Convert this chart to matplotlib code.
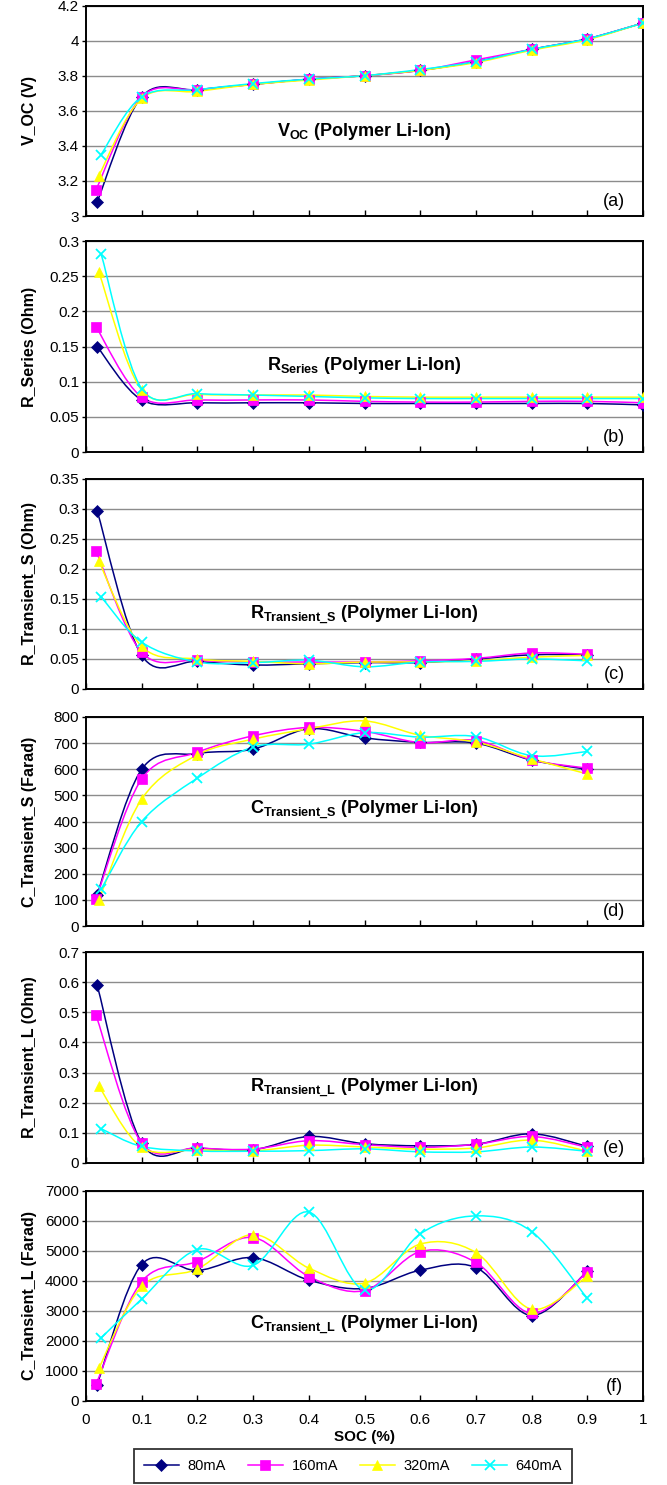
import matplotlib
matplotlib.use("Agg")
import matplotlib.pyplot as plt
from matplotlib.path import Path
from matplotlib.patches import PathPatch
from matplotlib.lines import Line2D
from matplotlib.ticker import FuncFormatter

plt.rcParams["font.family"] = "Liberation Sans"
plt.rcParams["mathtext.fontset"] = "custom"
plt.rcParams["mathtext.bf"] = "Liberation Sans:bold"
plt.rcParams["mathtext.rm"] = "Liberation Sans"

# ---- data ----
currents = ["80mA", "160mA", "320mA", "640mA"]
soc_first = [0.02, 0.018, 0.023, 0.027]
soc_steps = [0.1, 0.2, 0.3, 0.4, 0.5, 0.6, 0.7, 0.8, 0.9, 1.0]

voc = [
    [3.08, 3.68, 3.72, 3.75, 3.78, 3.80, 3.83, 3.88, 3.95, 4.01, 4.10],
    [3.15, 3.68, 3.72, 3.75, 3.78, 3.80, 3.83, 3.89, 3.95, 4.01, 4.10],
    [3.23, 3.67, 3.71, 3.75, 3.775, 3.80, 3.83, 3.875, 3.945, 4.005, 4.10],
    [3.35, 3.68, 3.72, 3.755, 3.78, 3.80, 3.835, 3.88, 3.95, 4.01, 4.10],
]
r_series = [
    [0.150, 0.074, 0.070, 0.070, 0.070, 0.069, 0.069, 0.069, 0.069, 0.069, 0.067],
    [0.178, 0.078, 0.074, 0.074, 0.074, 0.072, 0.071, 0.071, 0.072, 0.072, 0.070],
    [0.256, 0.088, 0.082, 0.081, 0.081, 0.079, 0.078, 0.078, 0.078, 0.078, 0.078],
    [0.282, 0.090, 0.083, 0.081, 0.079, 0.077, 0.076, 0.076, 0.076, 0.076, 0.076],
]
r_trans_s = [
    [0.297, 0.056, 0.046, 0.040, 0.042, 0.044, 0.044, 0.050, 0.057, 0.057],
    [0.230, 0.061, 0.048, 0.045, 0.045, 0.045, 0.047, 0.051, 0.060, 0.058],
    [0.213, 0.071, 0.050, 0.046, 0.042, 0.045, 0.045, 0.047, 0.053, 0.056],
    [0.154, 0.078, 0.045, 0.044, 0.048, 0.037, 0.045, 0.046, 0.050, 0.047],
]
c_trans_s = [
    [120, 600, 660, 677, 755, 720, 703, 700, 635, 600],
    [105, 563, 665, 728, 760, 745, 702, 710, 636, 604],
    [100, 486, 655, 715, 755, 785, 730, 704, 640, 582],
    [140, 400, 566, 685, 696, 740, 723, 725, 652, 668],
]
r_trans_l = [
    [0.590, 0.066, 0.050, 0.044, 0.088, 0.064, 0.057, 0.062, 0.097, 0.055],
    [0.490, 0.066, 0.050, 0.046, 0.074, 0.061, 0.052, 0.062, 0.088, 0.052],
    [0.255, 0.052, 0.044, 0.040, 0.059, 0.053, 0.046, 0.050, 0.076, 0.039],
    [0.114, 0.055, 0.040, 0.039, 0.041, 0.047, 0.037, 0.037, 0.053, 0.039],
]
c_trans_l = [
    [550, 4550, 4350, 4780, 4030, 3750, 4360, 4450, 2850, 4320],
    [560, 3980, 4650, 5450, 4150, 3680, 4980, 4620, 2920, 4300],
    [1090, 3820, 4400, 5550, 4430, 3930, 5230, 4950, 3060, 4160],
    [2100, 3400, 5050, 4520, 6300, 3700, 5570, 6170, 5650, 3420],
]

colors = ["#000080", "#FF00FF", "#FFFF00", "#00FFFF"]
markers = ["D", "s", "^", "x"]
msizes = [6, 6.5, 7.5, 7.5]

# (data, ymin, ymax, ystep, ylabel, title, letter, title_y)
panels = [
    (voc, 3.0, 4.2, 0.2, "V_OC (V)", r"$\mathbf{V_{OC}}$ (Polymer Li-Ion)", "(a)", 0.40),
    (r_series, 0, 0.3, 0.05, "R_Series (Ohm)", r"$\mathbf{R_{Series}}$ (Polymer Li-Ion)", "(b)", 0.41),
    (r_trans_s, 0, 0.35, 0.05, "R_Transient_S (Ohm)", r"$\mathbf{R_{Transient\_S}}$ (Polymer Li-Ion)", "(c)", 0.35),
    (c_trans_s, 0, 800, 100, "C_Transient_S (Farad)", r"$\mathbf{C_{Transient\_S}}$ (Polymer Li-Ion)", "(d)", 0.555),
    (r_trans_l, 0, 0.7, 0.1, "R_Transient_L (Ohm)", r"$\mathbf{R_{Transient\_L}}$ (Polymer Li-Ion)", "(e)", 0.355),
    (c_trans_l, 0, 7000, 1000, "C_Transient_L (Farad)", r"$\mathbf{C_{Transient\_L}}$ (Polymer Li-Ion)", "(f)", 0.36),
]

# axes boxes in pixels (top, bottom)
boxes = [(5.5, 216), (241, 452), (479, 689), (717, 926), (952, 1163), (1191, 1401)]
W, H = 667, 1485
LEFT, RIGHT = 86, 643


def smooth_path(x, y):
    # Catmull-Rom style bezier, like the spreadsheet "smoothed line"
    pts = list(zip(x, y))
    verts = [pts[0]]
    codes = [Path.MOVETO]
    n = len(pts)
    for i in range(n - 1):
        p0 = pts[i - 1] if i > 0 else pts[i]
        p1 = pts[i]
        p2 = pts[i + 1]
        p3 = pts[i + 2] if i + 2 < n else pts[i + 1]
        c1 = (p1[0] + (p2[0] - p0[0]) / 6, p1[1] + (p2[1] - p0[1]) / 6)
        c2 = (p2[0] - (p3[0] - p1[0]) / 6, p2[1] - (p3[1] - p1[1]) / 6)
        verts += [c1, c2, p2]
        codes += [Path.CURVE4] * 3
    return Path(verts, codes)


fig = plt.figure(figsize=(W / 100, H / 100), dpi=100)

for k, (data, ymin, ymax, ystep, ylabel, title, letter, ty) in enumerate(panels):
    top, bot = boxes[k]
    ax = fig.add_axes([LEFT / W, (H - bot) / H, (RIGHT - LEFT) / W, (bot - top) / H])

    for j, series in enumerate(data):
        xs = [soc_first[j]] + soc_steps[: len(series) - 1]
        ax.add_patch(PathPatch(smooth_path(xs, series), fill=False,
                               edgecolor=colors[j], lw=1.1, zorder=3))
        ax.plot(xs, series, linestyle="none", marker=markers[j], color=colors[j],
                markersize=msizes[j], markeredgewidth=1.3 if markers[j] == "x" else 0.5,
                zorder=4)

    ax.set_xlim(0, 1)
    ax.set_ylim(ymin, ymax)
    nt = int(round((ymax - ymin) / ystep))
    ax.set_yticks([ymin + i * ystep for i in range(nt + 1)])
    ax.yaxis.set_major_formatter(FuncFormatter(lambda v, p: "%g" % round(v, 4)))
    ax.set_xticks([i / 10 for i in range(11)])
    ax.grid(axis="y", color="#8c8c8c", lw=1.0)
    ax.set_axisbelow(True)
    ax.tick_params(axis="x", direction="in", length=4, width=1, labelsize=11)
    ax.tick_params(axis="y", direction="out", length=3, width=1, labelsize=11, pad=2)
    for s in ax.spines.values():
        s.set_linewidth(1.4)
    if k < 5:
        ax.tick_params(axis="x", labelbottom=False)
    else:
        ax.xaxis.set_major_formatter(FuncFormatter(lambda v, p: "%g" % round(v, 2)))
        ax.tick_params(axis="x", pad=9)
        ax.set_xlabel("SOC (%)", fontweight="bold", fontsize=11, labelpad=2)

    ax.set_ylabel(ylabel, fontweight="bold", fontsize=11.5)
    ax.yaxis.set_label_coords(-0.088, 0.5)
    ax.text(0.5, ty, title, transform=ax.transAxes, ha="center", va="center",
            fontsize=13, fontweight="bold")
    ax.text(0.948, 0.068, letter, transform=ax.transAxes, ha="center", va="center",
            fontsize=13)

handles = [Line2D([], [], color=colors[j], marker=markers[j], markersize=msizes[j],
                  markeredgewidth=1.3 if markers[j] == "x" else 0.5, lw=1.1)
           for j in range(4)]
leg = fig.legend(handles, currents, loc="center", bbox_to_anchor=(353 / W, 19 / H),
                 ncol=4, frameon=True, fancybox=False, edgecolor="black",
                 fontsize=10.5, handlelength=2.4, columnspacing=1.5,
                 handletextpad=0.6, borderpad=0.7, borderaxespad=0)
leg.get_frame().set_linewidth(1.3)

fig.savefig("out.png", dpi=100)
